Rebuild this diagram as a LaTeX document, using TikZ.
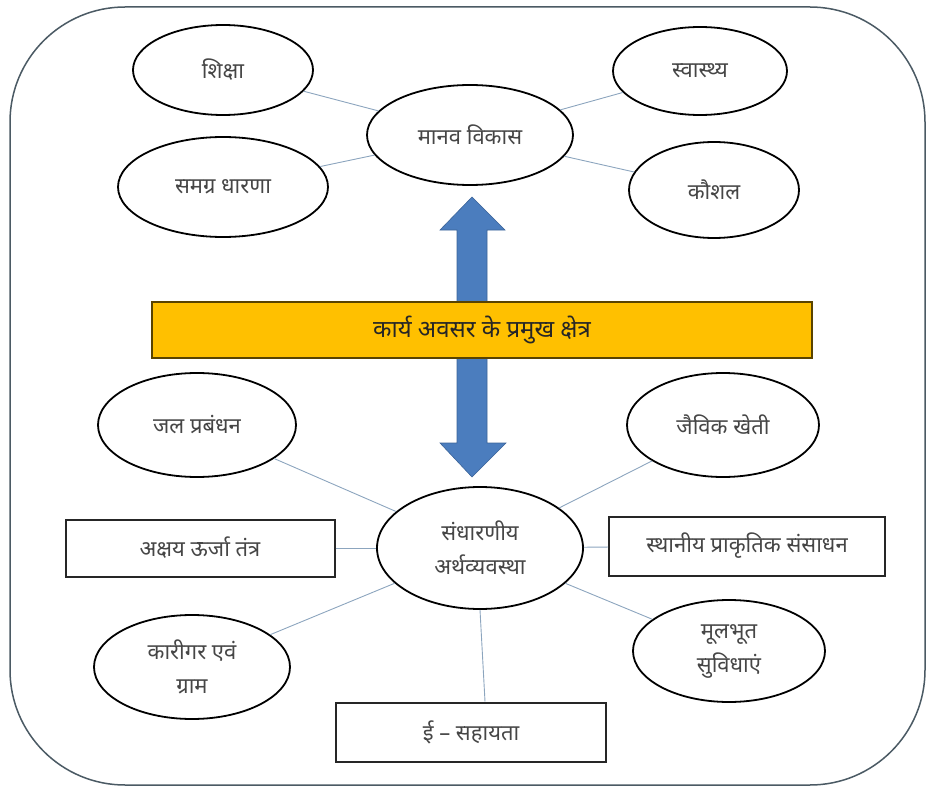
\documentclass[tikz,border=0pt]{standalone}
\usepackage{fontspec}
\newfontfamily\hindi[Script=Devanagari]{Noto Sans}
\usepackage{tikz}
\usetikzlibrary{shapes.geometric}

\definecolor{inkgray}{RGB}{70,70,70}
\definecolor{linkblue}{RGB}{140,165,190}
\definecolor{framegray}{RGB}{75,90,100}
\definecolor{arrowblue}{RGB}{75,125,190}
\definecolor{bargold}{RGB}{255,192,0}

\begin{document}
\begin{tikzpicture}[
        x=1pt, y=-1pt,
        every node/.style={font=\hindi\fontsize{22}{34}\selectfont, text=inkgray},
        bubble/.style={ellipse, draw=black, line width=1.8pt, inner sep=0pt, align=center},
        panel/.style={rectangle, draw=black!85, line width=2pt, inner sep=0pt},
        link/.style={linkblue, line width=0.9pt}
    ]

    \useasboundingbox (0,0) rectangle (927,789);
    \draw[framegray, line width=1.5pt, rounded corners=115pt] (10,7) rectangle (925,785);

    % upper half
    \node[bubble, minimum width=180pt, minimum height=90pt] (siksha) at (223,70) {शिक्षा};
    \node[bubble, minimum width=206pt, minimum height=100pt] (manav) at (470,135) {मानव विकास};
    \node[bubble, minimum width=174pt, minimum height=88pt] (swasthya) at (700,71) {स्वास्थ्य};
    \node[bubble, minimum width=210pt, minimum height=100pt] (samagra) at (223,187) {समग्र धारणा};
    \node[bubble, minimum width=170pt, minimum height=96pt] (kaushal) at (714,190) {कौशल};

    \draw[link] (siksha) -- (manav);
    \draw[link] (samagra) -- (manav);
    \draw[link] (swasthya) -- (manav);
    \draw[link] (kaushal) -- (manav);

    % double arrow behind the bar
    \fill[arrowblue, draw=arrowblue!80!black, line width=0.6pt]
        (472,197) -- (505,230) -- (487,230) -- (487,443) -- (506,443)
        -- (472,477) -- (440,443) -- (457,443) -- (457,230) -- (440,230) -- cycle;

    \node[rectangle, draw=black!65!bargold, fill=bargold, line width=1.8pt,
          minimum width=660pt, minimum height=56pt, inner sep=0pt,
          font=\hindi\bfseries\fontsize{24}{28}\selectfont, text=black!85] (karya) at (482,330) {कार्य अवसर के प्रमुख क्षेत्र};

    % lower half
    \node[bubble, minimum width=198pt, minimum height=104pt] (jal) at (197,425) {जल प्रबंधन};
    \node[bubble, minimum width=192pt, minimum height=104pt] (jaivik) at (723,425) {जैविक खेती};
    \node[bubble, minimum width=206pt, minimum height=122pt] (sandharaniya) at (480,548) {संधारणीय\\अर्थव्यवस्था};
    \node[panel, minimum width=269pt, minimum height=57pt] (akshay) at (200,548) {अक्षय ऊर्जा तंत्र};
    \node[panel, minimum width=276pt, minimum height=59pt] (sthaniya) at (747,546) {स्थानीय प्राकृतिक संसाधन};
    \node[bubble, minimum width=196pt, minimum height=104pt] (karigar) at (192,667) {कारीगर एवं\\ग्राम};
    \node[bubble, minimum width=192pt, minimum height=102pt] (mulbhut) at (729,651) {मूलभूत\\सुविधाएं};
    \node[panel, minimum width=270pt, minimum height=59pt] (esahayata) at (471,732) {ई – सहायता};

    \draw[link] (jal) -- (sandharaniya);
    \draw[link] (jaivik) -- (sandharaniya);
    \draw[link] (akshay) -- (sandharaniya);
    \draw[link] (sthaniya) -- (sandharaniya);
    \draw[link] (karigar) -- (sandharaniya);
    \draw[link] (mulbhut) -- (sandharaniya);
    \draw[link] (sandharaniya.south) -- ([xshift=14pt]esahayata.north);

\end{tikzpicture}
\end{document}
